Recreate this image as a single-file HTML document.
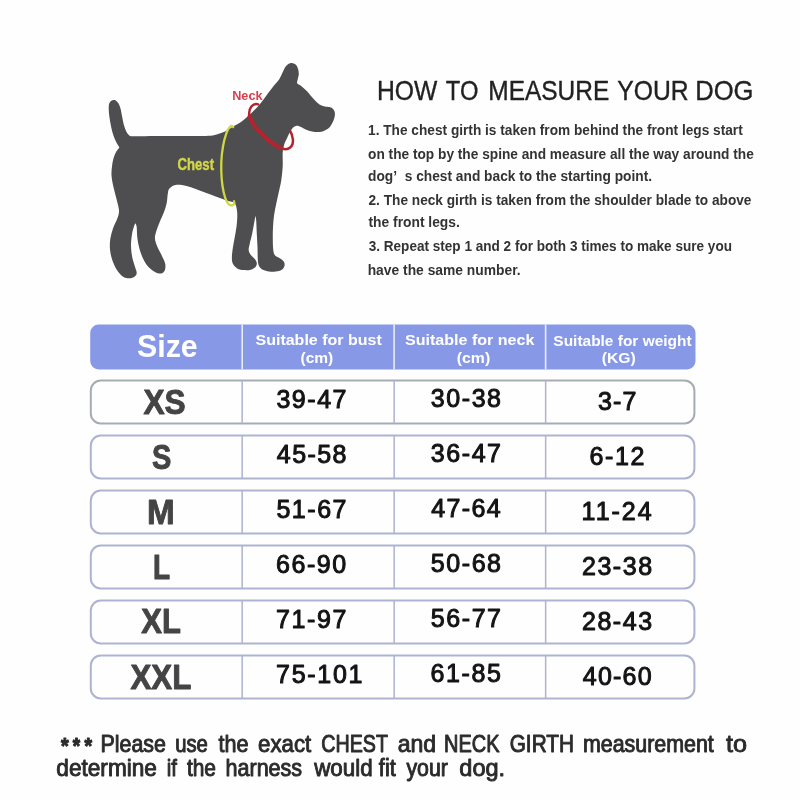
<!DOCTYPE html>
<html><head><meta charset="utf-8"><title>How to measure your dog</title>
<style>
html,body{margin:0;padding:0;background:#fefefe;}
body{width:800px;height:800px;overflow:hidden;font-family:"Liberation Sans",sans-serif;}
svg{display:block;font-family:"Liberation Sans",sans-serif;filter:blur(0.55px);}
text{white-space:pre;}
</style></head><body>
<svg width="800" height="800" viewBox="0 0 800 800">
<rect width="800" height="800" fill="#fefefe"/>
<!-- dog -->
<path d="M119.40 147.40 C119.92 146.70 120.02 148.47 119.40 147.40 C118.78 146.33 116.85 143.48 115.70 141.00 C114.55 138.52 113.38 135.52 112.50 132.50 C111.62 129.48 110.98 126.08 110.40 122.90 C109.82 119.72 109.27 116.23 109.00 113.40 C108.73 110.57 108.65 107.77 108.80 105.90 C108.95 104.03 109.28 103.15 109.90 102.20 C110.52 101.25 111.53 100.50 112.50 100.20 C113.47 99.90 114.72 99.88 115.70 100.40 C116.68 100.92 117.60 101.93 118.40 103.30 C119.20 104.67 119.88 106.38 120.50 108.60 C121.12 110.82 121.53 113.85 122.10 116.60 C122.67 119.35 123.20 122.63 123.90 125.10 C124.60 127.57 125.45 129.72 126.30 131.40 C127.15 133.08 128.10 134.40 129.00 135.20 C129.90 136.00 130.53 136.02 131.70 136.20 C132.87 136.38 133.78 136.30 136.00 136.30 C138.22 136.30 141.83 136.23 145.00 136.20 C148.17 136.17 151.67 136.13 155.00 136.10 C158.33 136.07 160.00 136.02 165.00 136.00 C170.00 135.98 178.75 136.00 185.00 136.00 C191.25 136.00 197.71 136.12 202.50 136.00 C207.29 135.88 210.00 136.05 213.75 135.30 C217.50 134.55 221.96 132.83 225.00 131.50 C228.04 130.17 229.00 129.13 232.00 127.30 C235.00 125.47 239.50 123.13 243.00 120.50 C246.50 117.87 250.17 114.27 253.00 111.50 C255.83 108.73 257.77 106.58 260.00 103.90 C262.23 101.22 264.10 98.42 266.40 95.40 C268.70 92.38 271.68 88.47 273.80 85.80 C275.92 83.13 277.60 81.70 279.10 79.40 C280.60 77.10 281.73 74.12 282.80 72.00 C283.87 69.88 284.52 68.08 285.50 66.70 C286.48 65.32 287.63 64.32 288.70 63.70 C289.77 63.08 290.75 62.85 291.90 63.00 C293.05 63.15 294.58 63.63 295.60 64.60 C296.62 65.57 297.47 67.22 298.00 68.80 C298.53 70.38 298.85 72.33 298.80 74.10 C298.75 75.87 297.97 77.88 297.70 79.40 C297.43 80.92 296.67 82.13 297.20 83.20 C297.73 84.27 299.48 84.65 300.90 85.80 C302.32 86.95 304.02 88.42 305.70 90.10 C307.38 91.78 309.40 94.13 311.00 95.90 C312.60 97.67 313.88 99.28 315.30 100.70 C316.72 102.12 317.92 103.43 319.50 104.40 C321.08 105.37 323.12 106.05 324.80 106.50 C326.48 106.95 328.18 106.65 329.60 107.10 C331.02 107.55 332.42 108.23 333.30 109.20 C334.18 110.17 334.72 111.48 334.90 112.90 C335.08 114.32 334.83 116.02 334.40 117.70 C333.97 119.38 333.18 121.32 332.30 123.00 C331.42 124.68 330.52 126.47 329.10 127.80 C327.68 129.13 325.58 130.30 323.80 131.00 C322.02 131.70 320.35 131.92 318.40 132.00 C316.45 132.08 314.22 131.93 312.10 131.50 C309.98 131.07 307.65 130.20 305.70 129.40 C303.75 128.60 301.90 127.32 300.40 126.70 C298.90 126.08 297.95 125.52 296.70 125.70 C295.45 125.88 294.05 126.65 292.90 127.80 C291.75 128.95 290.77 130.92 289.80 132.60 C288.83 134.28 288.03 135.92 287.10 137.90 C286.17 139.88 284.93 141.98 284.20 144.50 C283.47 147.02 282.95 149.42 282.70 153.00 C282.45 156.58 282.93 161.50 282.70 166.00 C282.47 170.50 281.90 175.87 281.30 180.00 C280.70 184.13 279.92 186.98 279.10 190.80 C278.28 194.62 277.23 198.85 276.40 202.90 C275.57 206.95 274.67 211.05 274.10 215.10 C273.53 219.15 273.22 223.15 273.00 227.20 C272.78 231.25 272.75 235.57 272.80 239.40 C272.85 243.23 272.92 247.50 273.30 250.20 C273.68 252.90 274.02 254.25 275.10 255.60 C276.18 256.95 278.35 257.30 279.80 258.30 C281.25 259.30 283.02 260.37 283.80 261.60 C284.58 262.83 284.83 264.35 284.50 265.70 C284.17 267.05 283.27 268.73 281.80 269.70 C280.33 270.67 277.83 271.20 275.70 271.50 C273.57 271.80 271.13 271.80 269.00 271.50 C266.87 271.20 264.52 270.55 262.90 269.70 C261.28 268.85 260.13 267.85 259.30 266.40 C258.47 264.95 258.20 264.15 257.90 261.00 C257.60 257.85 257.68 252.00 257.50 247.50 C257.32 243.00 257.02 238.50 256.80 234.00 C256.58 229.50 256.42 223.53 256.20 220.50 C255.98 217.47 255.62 216.58 255.50 215.80 C255.38 215.02 255.73 214.57 255.50 215.80 C255.27 217.03 254.67 220.17 254.10 223.20 C253.53 226.23 252.82 230.63 252.10 234.00 C251.38 237.37 250.37 240.70 249.80 243.40 C249.23 246.10 248.53 248.28 248.70 250.20 C248.87 252.12 249.78 253.45 250.80 254.90 C251.82 256.35 253.80 257.55 254.80 258.90 C255.80 260.25 256.68 261.65 256.80 263.00 C256.92 264.35 256.50 265.88 255.50 267.00 C254.50 268.12 252.72 269.18 250.80 269.70 C248.88 270.22 246.25 270.32 244.00 270.10 C241.75 269.88 239.10 269.37 237.30 268.40 C235.50 267.43 234.10 265.88 233.20 264.30 C232.30 262.72 232.02 261.25 231.90 258.90 C231.78 256.55 232.05 253.68 232.50 250.20 C232.95 246.72 233.92 242.05 234.60 238.00 C235.28 233.95 236.15 229.72 236.60 225.90 C237.05 222.08 237.30 218.03 237.30 215.10 C237.30 212.17 236.95 210.22 236.60 208.30 C236.25 206.38 235.65 204.60 235.20 203.60 C234.75 202.60 235.47 202.87 233.90 202.30 C232.33 201.73 228.95 201.22 225.80 200.20 C222.65 199.18 218.47 197.48 215.00 196.20 C211.53 194.92 208.33 193.74 205.00 192.50 C201.67 191.26 197.33 189.62 195.00 188.75 C192.67 187.88 193.17 187.88 191.00 187.25 C188.83 186.62 184.75 185.32 182.00 185.00 C179.25 184.68 176.62 184.68 174.50 185.30 C172.38 185.93 170.38 187.30 169.25 188.75 C168.12 190.20 168.18 191.62 167.75 194.00 C167.32 196.38 167.32 200.00 166.70 203.00 C166.07 206.00 165.20 208.75 164.00 212.00 C162.80 215.25 160.88 219.00 159.50 222.50 C158.12 226.00 156.50 230.25 155.75 233.00 C155.00 235.75 154.75 236.75 155.00 239.00 C155.25 241.25 156.12 243.75 157.25 246.50 C158.38 249.25 160.43 252.62 161.75 255.50 C163.07 258.38 164.70 261.25 165.20 263.75 C165.70 266.25 165.45 268.88 164.75 270.50 C164.05 272.12 162.62 273.25 161.00 273.50 C159.38 273.75 157.12 273.12 155.00 272.00 C152.88 270.88 150.25 269.00 148.25 266.75 C146.25 264.50 144.50 261.62 143.00 258.50 C141.50 255.38 140.20 251.50 139.25 248.00 C138.30 244.50 137.73 241.00 137.30 237.50 C136.88 234.00 137.00 229.38 136.70 227.00 C136.40 224.62 135.70 223.88 135.50 223.25 C135.30 222.62 135.70 222.88 135.50 223.25 C135.30 223.62 134.85 223.88 134.30 225.50 C133.75 227.12 132.75 229.75 132.20 233.00 C131.65 236.25 131.00 241.00 131.00 245.00 C131.00 249.00 131.57 253.50 132.20 257.00 C132.82 260.50 134.00 263.38 134.75 266.00 C135.50 268.62 136.70 271.00 136.70 272.75 C136.70 274.50 135.95 275.57 134.75 276.50 C133.55 277.43 131.50 278.30 129.50 278.30 C127.50 278.30 124.88 277.93 122.75 276.50 C120.62 275.07 118.50 272.50 116.75 269.75 C115.00 267.00 113.38 263.38 112.25 260.00 C111.12 256.62 110.33 253.00 110.00 249.50 C109.67 246.00 109.80 242.50 110.30 239.00 C110.80 235.50 111.80 232.00 113.00 228.50 C114.20 225.00 116.50 221.00 117.50 218.00 C118.50 215.00 119.12 213.50 119.00 210.50 C118.88 207.50 117.75 204.25 116.75 200.00 C115.75 195.75 113.88 189.17 113.00 185.00 C112.12 180.83 111.67 178.08 111.50 175.00 C111.33 171.92 111.65 169.33 112.00 166.50 C112.35 163.67 112.88 160.48 113.60 158.00 C114.32 155.52 115.33 153.37 116.30 151.60 C117.27 149.83 118.88 148.10 119.40 147.40Z" fill="#4e4e50"/>
<path d="M233.2 127 C229.5 121.5 222.6 138 221.3 162 C220.6 186 225.2 203.5 230.2 205.2 C233.4 206.2 235 203.6 234 201.2" fill="none" stroke="#d1d742" stroke-width="2.3" stroke-linecap="round"/>
<path d="M258.2 104.4 C253 102.8 248.2 108 249.3 115.8" fill="none" stroke="#b3242f" stroke-width="2.5" stroke-linecap="round"/>
<path d="M249.6 116.5 C253 127.5 268 142.3 281.3 148.1" fill="none" stroke="#b3242f" stroke-width="4.1" stroke-linecap="round"/>
<path d="M281.8 148.4 C288.5 151 293.6 146.5 292.9 139.5 C292.5 135.5 291.5 133 290.3 131.2" fill="none" stroke="#b3242f" stroke-width="2.5" stroke-linecap="round"/>
<!-- table -->
<path d="M98.7 324.6 H687.0 a8.5 8.5 0 0 1 8.5 8.5 V361 a8.5 8.5 0 0 1 -8.5 8.5 H98.7 a8.5 8.5 0 0 1 -8.5 -8.5 V333.1 a8.5 8.5 0 0 1 8.5 -8.5Z" fill="#8799e6"/>
<rect x="241.4" y="324.6" width="1.6" height="44.9" fill="#e9ecfb"/><rect x="393.3" y="324.6" width="1.6" height="44.9" fill="#e9ecfb"/><rect x="544.8" y="324.6" width="1.6" height="44.9" fill="#e9ecfb"/>
<rect x="90.8" y="380.5" width="603.6" height="43" rx="10" ry="10" fill="#fefefe" stroke="#a6abb4" stroke-width="2"/><rect x="241.4" y="380.5" width="1.5" height="43" fill="#adb3d0"/><rect x="393.4" y="380.5" width="1.5" height="43" fill="#adb3d0"/><rect x="544.9" y="380.5" width="1.5" height="43" fill="#adb3d0"/><rect x="90.8" y="435.5" width="603.6" height="43" rx="10" ry="10" fill="#fefefe" stroke="#adb3d0" stroke-width="2"/><rect x="241.4" y="435.5" width="1.5" height="43" fill="#adb3d0"/><rect x="393.4" y="435.5" width="1.5" height="43" fill="#adb3d0"/><rect x="544.9" y="435.5" width="1.5" height="43" fill="#adb3d0"/><rect x="90.8" y="490.5" width="603.6" height="43" rx="10" ry="10" fill="#fefefe" stroke="#adb3d0" stroke-width="2"/><rect x="241.4" y="490.5" width="1.5" height="43" fill="#adb3d0"/><rect x="393.4" y="490.5" width="1.5" height="43" fill="#adb3d0"/><rect x="544.9" y="490.5" width="1.5" height="43" fill="#adb3d0"/><rect x="90.8" y="545.5" width="603.6" height="43" rx="10" ry="10" fill="#fefefe" stroke="#adb3d0" stroke-width="2"/><rect x="241.4" y="545.5" width="1.5" height="43" fill="#adb3d0"/><rect x="393.4" y="545.5" width="1.5" height="43" fill="#adb3d0"/><rect x="544.9" y="545.5" width="1.5" height="43" fill="#adb3d0"/><rect x="90.8" y="600.5" width="603.6" height="43" rx="10" ry="10" fill="#fefefe" stroke="#adb3d0" stroke-width="2"/><rect x="241.4" y="600.5" width="1.5" height="43" fill="#adb3d0"/><rect x="393.4" y="600.5" width="1.5" height="43" fill="#adb3d0"/><rect x="544.9" y="600.5" width="1.5" height="43" fill="#adb3d0"/><rect x="90.8" y="655.5" width="603.6" height="43" rx="10" ry="10" fill="#fefefe" stroke="#adb3d0" stroke-width="2"/><rect x="241.4" y="655.5" width="1.5" height="43" fill="#adb3d0"/><rect x="393.4" y="655.5" width="1.5" height="43" fill="#adb3d0"/><rect x="544.9" y="655.5" width="1.5" height="43" fill="#adb3d0"/>
<!-- texts -->
<g xml:space="preserve">
<text transform="translate(376.95 99.60) scale(0.8980 1.0000)" font-size="27.50" font-weight="normal" fill="#222" stroke="#222" stroke-width="0.35" stroke-linejoin="round" vector-effect="non-scaling-stroke">HOW</text>
<text transform="translate(445.80 99.60) scale(0.8637 1.0000)" font-size="27.50" font-weight="normal" fill="#222" stroke="#222" stroke-width="0.35" stroke-linejoin="round" vector-effect="non-scaling-stroke">TO</text>
<text transform="translate(488.26 99.60) scale(0.8904 1.0000)" font-size="27.50" font-weight="normal" fill="#222" stroke="#222" stroke-width="0.35" stroke-linejoin="round" vector-effect="non-scaling-stroke">MEASURE</text>
<text transform="translate(617.29 99.60) scale(0.8986 1.0000)" font-size="27.50" font-weight="normal" fill="#222" stroke="#222" stroke-width="0.35" stroke-linejoin="round" vector-effect="non-scaling-stroke">YOUR</text>
<text transform="translate(695.17 99.60) scale(0.9318 1.0000)" font-size="27.50" font-weight="normal" fill="#222" stroke="#222" stroke-width="0.35" stroke-linejoin="round" vector-effect="non-scaling-stroke">DOG</text>
<text transform="translate(368.04 134.50) scale(0.9636 1.0000)" font-size="14.20" font-weight="bold" fill="#333333">1. The chest girth is taken from behind the front legs start</text>
<text transform="translate(368.07 158.60) scale(0.9656 1.0000)" font-size="14.20" font-weight="bold" fill="#333333">on the top by the spine and measure all the way around the</text>
<text transform="translate(368.07 181.30) scale(0.9681 1.0000)" font-size="14.20" font-weight="bold" fill="#333333">dog&#8217;&#160;&#160;s chest and back to the starting point.</text>
<text transform="translate(368.47 204.50) scale(0.9635 1.0000)" font-size="14.20" font-weight="bold" fill="#333333">2. The neck girth is taken from the shoulder blade to above</text>
<text transform="translate(368.50 227.20) scale(0.9727 1.0000)" font-size="14.20" font-weight="bold" fill="#333333">the front legs.</text>
<text transform="translate(368.69 251.20) scale(0.9564 1.0000)" font-size="14.20" font-weight="bold" fill="#333333">3. Repeat step 1 and 2 for both 3 times to make sure you</text>
<text transform="translate(367.63 274.50) scale(0.9754 1.0000)" font-size="14.20" font-weight="bold" fill="#333333">have the same number.</text>
<text transform="translate(177.59 169.90) scale(0.9054 1.0800)" font-size="14.50" font-weight="bold" fill="#d3d646" stroke="#d3d646" stroke-width="0.40" stroke-linejoin="round" vector-effect="non-scaling-stroke">Chest</text>
<text transform="translate(232.21 99.70) scale(0.9392 1.0000)" font-size="13.50" font-weight="bold" fill="#d8404f">Neck</text>
<text transform="translate(136.92 357.30) scale(0.9968 1.0000)" font-size="30.50" font-weight="bold" fill="#ffffff">Size</text>
<text transform="translate(255.50 345.40) scale(1.0675 1.0000)" font-size="15.00" font-weight="bold" fill="#ffffff">Suitable for bust</text>
<text transform="translate(300.47 362.70) scale(1.0353 1.0000)" font-size="15.00" font-weight="bold" fill="#ffffff">(cm)</text>
<text transform="translate(405.00 345.40) scale(1.0714 1.0000)" font-size="15.00" font-weight="bold" fill="#ffffff">Suitable for neck</text>
<text transform="translate(456.76 362.70) scale(1.0551 1.0000)" font-size="15.00" font-weight="bold" fill="#ffffff">(cm)</text>
<text transform="translate(553.36 346.00) scale(1.0309 1.0000)" font-size="15.00" font-weight="bold" fill="#ffffff">Suitable for weight</text>
<text transform="translate(601.76 363.40) scale(1.0498 1.0000)" font-size="15.00" font-weight="bold" fill="#ffffff">(KG)</text>
<text transform="translate(143.45 414.00) scale(0.9046 1.0000)" font-size="35.00" font-weight="bold" fill="#444" stroke="#444" stroke-width="0.90" stroke-linejoin="round" vector-effect="non-scaling-stroke">XS</text>
<text transform="translate(152.00 469.20) scale(0.8274 1.0000)" font-size="35.00" font-weight="bold" fill="#444" stroke="#444" stroke-width="0.90" stroke-linejoin="round" vector-effect="non-scaling-stroke">S</text>
<text transform="translate(146.97 523.50) scale(0.9501 1.0000)" font-size="35.00" font-weight="bold" fill="#444" stroke="#444" stroke-width="0.90" stroke-linejoin="round" vector-effect="non-scaling-stroke">M</text>
<text transform="translate(152.95 578.60) scale(0.7987 1.0000)" font-size="35.00" font-weight="bold" fill="#444" stroke="#444" stroke-width="0.90" stroke-linejoin="round" vector-effect="non-scaling-stroke">L</text>
<text transform="translate(141.25 633.40) scale(0.8861 1.0000)" font-size="35.00" font-weight="bold" fill="#444" stroke="#444" stroke-width="0.90" stroke-linejoin="round" vector-effect="non-scaling-stroke">XL</text>
<text transform="translate(130.45 689.00) scale(0.8937 1.0000)" font-size="35.00" font-weight="bold" fill="#444" stroke="#444" stroke-width="0.90" stroke-linejoin="round" vector-effect="non-scaling-stroke">XXL</text>
<text x="276.42" y="408.30" font-size="25.00" font-weight="normal" fill="#141414" letter-spacing="1.539" stroke="#141414" stroke-width="1.00" stroke-linejoin="round">39-47</text>
<text x="276.81" y="463.30" font-size="25.00" font-weight="normal" fill="#141414" letter-spacing="1.441" stroke="#141414" stroke-width="1.00" stroke-linejoin="round">45-58</text>
<text x="276.42" y="518.30" font-size="25.00" font-weight="normal" fill="#141414" letter-spacing="1.539" stroke="#141414" stroke-width="1.00" stroke-linejoin="round">51-67</text>
<text x="276.03" y="573.30" font-size="25.00" font-weight="normal" fill="#141414" letter-spacing="1.539" stroke="#141414" stroke-width="1.00" stroke-linejoin="round">66-90</text>
<text x="276.03" y="628.30" font-size="25.00" font-weight="normal" fill="#141414" letter-spacing="1.636" stroke="#141414" stroke-width="1.00" stroke-linejoin="round">71-97</text>
<text x="276.03" y="683.30" font-size="25.00" font-weight="normal" fill="#141414" letter-spacing="1.728" stroke="#141414" stroke-width="1.00" stroke-linejoin="round">75-101</text>
<text x="430.82" y="407.40" font-size="25.00" font-weight="normal" fill="#141414" letter-spacing="1.564" stroke="#141414" stroke-width="1.00" stroke-linejoin="round">30-38</text>
<text x="430.82" y="462.40" font-size="25.00" font-weight="normal" fill="#141414" letter-spacing="1.564" stroke="#141414" stroke-width="1.00" stroke-linejoin="round">36-47</text>
<text x="431.21" y="517.40" font-size="25.00" font-weight="normal" fill="#141414" letter-spacing="1.368" stroke="#141414" stroke-width="1.00" stroke-linejoin="round">47-64</text>
<text x="430.82" y="572.40" font-size="25.00" font-weight="normal" fill="#141414" letter-spacing="1.564" stroke="#141414" stroke-width="1.00" stroke-linejoin="round">50-68</text>
<text x="430.82" y="627.40" font-size="25.00" font-weight="normal" fill="#141414" letter-spacing="1.564" stroke="#141414" stroke-width="1.00" stroke-linejoin="round">56-77</text>
<text x="430.43" y="682.40" font-size="25.00" font-weight="normal" fill="#141414" letter-spacing="1.661" stroke="#141414" stroke-width="1.00" stroke-linejoin="round">61-85</text>
<text x="597.92" y="409.60" font-size="25.00" font-weight="normal" fill="#141414" letter-spacing="1.231" stroke="#141414" stroke-width="1.00" stroke-linejoin="round">3-7</text>
<text x="589.55" y="464.60" font-size="25.00" font-weight="normal" fill="#141414" letter-spacing="1.633" stroke="#141414" stroke-width="1.00" stroke-linejoin="round">6-12</text>
<text x="581.59" y="519.60" font-size="25.00" font-weight="normal" fill="#141414" letter-spacing="2.000" stroke="#141414" stroke-width="1.00" stroke-linejoin="round">11-24</text>
<text x="581.98" y="574.60" font-size="25.00" font-weight="normal" fill="#141414" letter-spacing="1.536" stroke="#141414" stroke-width="1.00" stroke-linejoin="round">23-38</text>
<text x="581.98" y="629.60" font-size="25.00" font-weight="normal" fill="#141414" letter-spacing="1.536" stroke="#141414" stroke-width="1.00" stroke-linejoin="round">28-43</text>
<text x="582.76" y="684.60" font-size="25.00" font-weight="normal" fill="#141414" letter-spacing="1.243" stroke="#141414" stroke-width="1.00" stroke-linejoin="round">40-60</text>
<text transform="translate(100.58 751.90) scale(0.9210 1.0000)" font-size="23.20" font-weight="normal" fill="#2b2b2b" stroke="#2b2b2b" stroke-width="0.90" stroke-linejoin="round" vector-effect="non-scaling-stroke">Please</text>
<text transform="translate(175.18 751.90) scale(0.8739 1.0000)" font-size="23.20" font-weight="normal" fill="#2b2b2b" stroke="#2b2b2b" stroke-width="0.90" stroke-linejoin="round" vector-effect="non-scaling-stroke">use</text>
<text transform="translate(218.45 751.90) scale(0.9294 1.0000)" font-size="23.20" font-weight="normal" fill="#2b2b2b" stroke="#2b2b2b" stroke-width="0.90" stroke-linejoin="round" vector-effect="non-scaling-stroke">the</text>
<text transform="translate(258.05 751.90) scale(0.9588 1.0000)" font-size="23.20" font-weight="normal" fill="#2b2b2b" stroke="#2b2b2b" stroke-width="0.90" stroke-linejoin="round" vector-effect="non-scaling-stroke">exact</text>
<text transform="translate(321.23 751.90) scale(0.8491 1.0000)" font-size="23.20" font-weight="normal" fill="#2b2b2b" stroke="#2b2b2b" stroke-width="0.90" stroke-linejoin="round" vector-effect="non-scaling-stroke">CHEST</text>
<text transform="translate(397.63 751.90) scale(0.9937 1.0000)" font-size="23.20" font-weight="normal" fill="#2b2b2b" stroke="#2b2b2b" stroke-width="0.90" stroke-linejoin="round" vector-effect="non-scaling-stroke">and</text>
<text transform="translate(444.09 751.90) scale(0.8606 1.0000)" font-size="23.20" font-weight="normal" fill="#2b2b2b" stroke="#2b2b2b" stroke-width="0.90" stroke-linejoin="round" vector-effect="non-scaling-stroke">NECK</text>
<text transform="translate(509.73 751.90) scale(0.8950 1.0000)" font-size="23.20" font-weight="normal" fill="#2b2b2b" stroke="#2b2b2b" stroke-width="0.90" stroke-linejoin="round" vector-effect="non-scaling-stroke">GIRTH</text>
<text transform="translate(582.91 751.90) scale(0.9233 1.0000)" font-size="23.20" font-weight="normal" fill="#2b2b2b" stroke="#2b2b2b" stroke-width="0.90" stroke-linejoin="round" vector-effect="non-scaling-stroke">measurement</text>
<text transform="translate(726.05 751.90) scale(1.0865 1.0000)" font-size="23.20" font-weight="normal" fill="#2b2b2b" stroke="#2b2b2b" stroke-width="0.90" stroke-linejoin="round" vector-effect="non-scaling-stroke">to</text>
<text transform="translate(56.34 776.10) scale(0.9754 1.0000)" font-size="23.20" font-weight="normal" fill="#2b2b2b" stroke="#2b2b2b" stroke-width="0.90" stroke-linejoin="round" vector-effect="non-scaling-stroke">determine</text>
<text transform="translate(166.77 776.10) scale(0.8798 1.0000)" font-size="23.20" font-weight="normal" fill="#2b2b2b" stroke="#2b2b2b" stroke-width="0.90" stroke-linejoin="round" vector-effect="non-scaling-stroke">if</text>
<text transform="translate(186.95 776.10) scale(0.9006 1.0000)" font-size="23.20" font-weight="normal" fill="#2b2b2b" stroke="#2b2b2b" stroke-width="0.90" stroke-linejoin="round" vector-effect="non-scaling-stroke">the</text>
<text transform="translate(225.50 776.10) scale(0.9295 1.0000)" font-size="23.20" font-weight="normal" fill="#2b2b2b" stroke="#2b2b2b" stroke-width="0.90" stroke-linejoin="round" vector-effect="non-scaling-stroke">harness</text>
<text transform="translate(314.20 776.10) scale(0.9652 1.0000)" font-size="23.20" font-weight="normal" fill="#2b2b2b" stroke="#2b2b2b" stroke-width="0.90" stroke-linejoin="round" vector-effect="non-scaling-stroke">would</text>
<text transform="translate(378.85 776.10) scale(0.9352 1.0000)" font-size="23.20" font-weight="normal" fill="#2b2b2b" stroke="#2b2b2b" stroke-width="0.90" stroke-linejoin="round" vector-effect="non-scaling-stroke">fit</text>
<text transform="translate(406.45 776.10) scale(0.9185 1.0000)" font-size="23.20" font-weight="normal" fill="#2b2b2b" stroke="#2b2b2b" stroke-width="0.90" stroke-linejoin="round" vector-effect="non-scaling-stroke">your</text>
<text transform="translate(459.31 776.10) scale(1.0158 1.0000)" font-size="23.20" font-weight="normal" fill="#2b2b2b" stroke="#2b2b2b" stroke-width="0.90" stroke-linejoin="round" vector-effect="non-scaling-stroke">dog.</text>
<text transform="translate(61.00 753.20) scale(0.9059 1.0000)" font-size="21.76" font-weight="bold" fill="#2b2b2b" stroke="#2b2b2b" stroke-width="1.00" stroke-linejoin="round" vector-effect="non-scaling-stroke">*</text>
<text transform="translate(72.80 753.20) scale(0.8706 1.0000)" font-size="21.76" font-weight="bold" fill="#2b2b2b" stroke="#2b2b2b" stroke-width="1.00" stroke-linejoin="round" vector-effect="non-scaling-stroke">*</text>
<text transform="translate(84.50 753.20) scale(0.8941 1.0000)" font-size="21.76" font-weight="bold" fill="#2b2b2b" stroke="#2b2b2b" stroke-width="1.00" stroke-linejoin="round" vector-effect="non-scaling-stroke">*</text>
</g>
</svg>
</body></html>
